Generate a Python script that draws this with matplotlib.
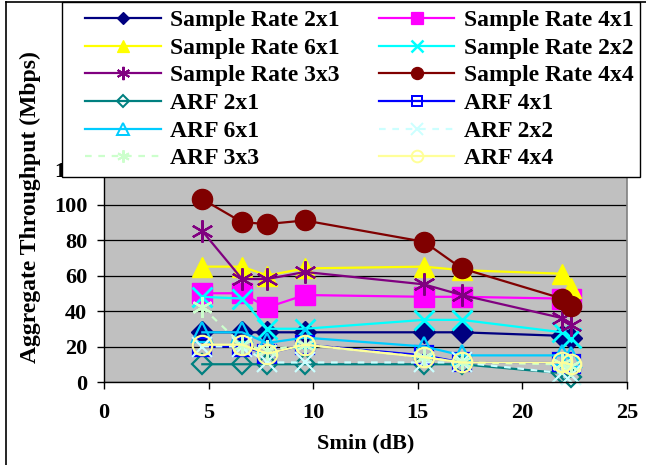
import matplotlib
matplotlib.use("Agg")
import matplotlib.pyplot as plt
from matplotlib.lines import Line2D
from matplotlib.patches import Rectangle

# ---------------- data ----------------
smin = [4.7, 6.6, 7.8, 9.6, 15.3, 17.1, 21.9, 22.3]

series_names = [
    "Sample Rate 2x1", "Sample Rate 4x1", "Sample Rate 6x1", "Sample Rate 2x2",
    "Sample Rate 3x3", "Sample Rate 4x4",
    "ARF 2x1", "ARF 4x1", "ARF 6x1", "ARF 2x2", "ARF 3x3", "ARF 4x4",
]

sr_2x1 = [28, 28, 28, 28, 28, 28, 26, 25]
sr_4x1 = [50, 50, 42, 49, 48, 48, 47, 47]
sr_6x1 = [65, 65, 60, 64, 65, 63, 61, 53]
sr_2x2 = [48, 47, 30, 30, 35, 35, 28, 25]
sr_3x3 = [85, 58, 58, 62, 55, 49, 36, 32]
sr_4x4 = [103, 90, 89, 91, 79, 64, 47, 43]
arf_2x1 = [10, 10, 10, 10, 10, 10, 5, 3]
arf_4x1 = [20, 20, 16, 21, 15, 11, 11, 10]
arf_6x1 = [28, 28, 22, 25, 20, 15, 15, 14]
arf_2x2 = [20, 20, 11, 11, 11, 11, 5, 4]
arf_3x3 = [42, 21, 18, 21, 14, 11, 10, 9]
arf_4x4 = [21, 21, 16, 21, 14, 11, 11, 10]

values = [sr_2x1, sr_4x1, sr_6x1, sr_2x2, sr_3x3, sr_4x4,
          arf_2x1, arf_4x1, arf_6x1, arf_2x2, arf_3x3, arf_4x4]

x_ticks = [0, 5, 10, 15, 20, 25]
y_ticks = [0, 20, 40, 60, 80, 100, 120]

# ---------------- styles ----------------
STAR = (6, 2, 0)
styles = [
    dict(color="#000080", marker="D", ms=11, mfc="#000080", ls="-"),
    dict(color="#FF00FF", marker="s", ms=14, mfc="#FF00FF", ls="-"),
    dict(color="#FFFF00", marker="^", ms=15, mfc="#FFFF00", ls="-"),
    dict(color="#00FFFF", marker="x", ms=14, mfc="none", ls="-", mew=2),
    dict(color="#800080", marker=STAR, ms=16, mfc="none", ls="-", mew=1.6),
    dict(color="#800000", marker="o", ms=14.5, mfc="#800000", ls="-"),
    dict(color="#008080", marker="D", ms=10.5, mfc="none", ls="-", mew=1.6),
    dict(color="#0000FF", marker="s", ms=13, mfc="none", ls="-", mew=1.6),
    dict(color="#00CCFF", marker="^", ms=14, mfc="none", ls="-", mew=1.6),
    dict(color="#CCFFFF", marker="x", ms=14, mfc="none", ls=(0, (3, 3)), mew=1.6),
    dict(color="#CCFFCC", marker=STAR, ms=15, mfc="none", ls=(0, (3, 3)), mew=1.6),
    dict(color="#FFFF99", marker="o", ms=14, mfc="none", ls="-", mew=1.6),
]

FONT = "Liberation Serif"
plt.rcParams["font.family"] = [FONT, "DejaVu Serif"]
plt.rcParams["font.weight"] = "bold"

W, H = 646, 465
fig = plt.figure(figsize=(W / 100, H / 100), dpi=100)
fig.patch.set_facecolor("white")

L, R, B, T = 104, 627, 382, 169
ax = fig.add_axes([L / W, 1 - B / H, (R - L) / W, (B - T) / H])
ax.set_facecolor("#C0C0C0")

for name, vals, st in zip(series_names, values, styles):
    ax.plot(smin, vals, color=st["color"], marker=st["marker"], markersize=st["ms"],
            markerfacecolor=st["mfc"], markeredgecolor=st["color"],
            markeredgewidth=st.get("mew", 1.0), linestyle=st["ls"], linewidth=1.6,
            label=name, clip_on=False)

ax.set_xlim(0, 25)
ax.set_ylim(0, 120)
ax.set_xticks(x_ticks)
ax.set_yticks(y_ticks)
ax.yaxis.grid(True, color="black", linewidth=0.9)
ax.set_axisbelow(True)
for s in ["top", "right"]:
    ax.spines[s].set_color("#808080")
    ax.spines[s].set_linewidth(1.2)
for s in ["left", "bottom"]:
    ax.spines[s].set_color("black")
    ax.spines[s].set_linewidth(1.0)
ax.tick_params(axis="both", direction="out", length=5, width=1, colors="black",
               labelsize=16)
ax.tick_params(axis="x", pad=10)
ax.tick_params(axis="y", pad=7)
for lab in ax.get_xticklabels() + ax.get_yticklabels():
    lab.set_fontweight("bold")

ax.set_xlabel("Smin (dB)", fontsize=16, fontweight="bold", labelpad=8)
fig.text(30 / W, 1 - 207 / H, "Aggregate Throughput (Mbps)", rotation=90,
         ha="center", va="center", fontsize=17, fontweight="bold")

# legend frame (drawn separately so the inner padding can match)
lx0, ly0, lx1, ly1 = 62, 2, 640, 177
fig.add_artist(Rectangle((lx0 / W, 1 - ly1 / H), (lx1 - lx0) / W, (ly1 - ly0) / H,
                         transform=fig.transFigure, facecolor="white",
                         edgecolor="black", linewidth=1.0, zorder=4))

handles = []
for name, st in zip(series_names, styles):
    handles.append(Line2D([0], [0], color=st["color"], marker=st["marker"],
                          markersize=st["ms"] * 0.6, markerfacecolor=st["mfc"],
                          markeredgecolor=st["color"],
                          markeredgewidth=st.get("mew", 1.0) * 0.9,
                          linestyle=st["ls"], linewidth=1.6, label=name))
order = [0, 2, 4, 6, 8, 10, 1, 3, 5, 7, 9, 11]
hs = [handles[i] for i in order]
bx0, by0, bx1, by1 = 85, 6, 634, 173
leg = fig.legend(handles=hs, labels=[h.get_label() for h in hs], ncol=2,
                 loc="center", bbox_to_anchor=(bx0 / W, 1 - by1 / H, (bx1 - bx0) / W, (by1 - by0) / H),
                 mode="expand", frameon=False, handlelength=3.2, handletextpad=0.42,
                 columnspacing=1.0, labelspacing=0.26, borderaxespad=0, borderpad=0,
                 prop={"family": FONT, "weight": "bold", "size": 17})
leg.set_zorder(5)

# outer chart border (left/top)
fig.add_artist(Line2D([6 / W, 6 / W], [0, 1 - 2 / H], color="black", lw=1.2,
                      transform=fig.transFigure))
fig.add_artist(Line2D([6 / W, 1], [1 - 2 / H, 1 - 2 / H], color="black", lw=1.2,
                      transform=fig.transFigure))

fig.savefig("out.png", dpi=100, facecolor="white")
